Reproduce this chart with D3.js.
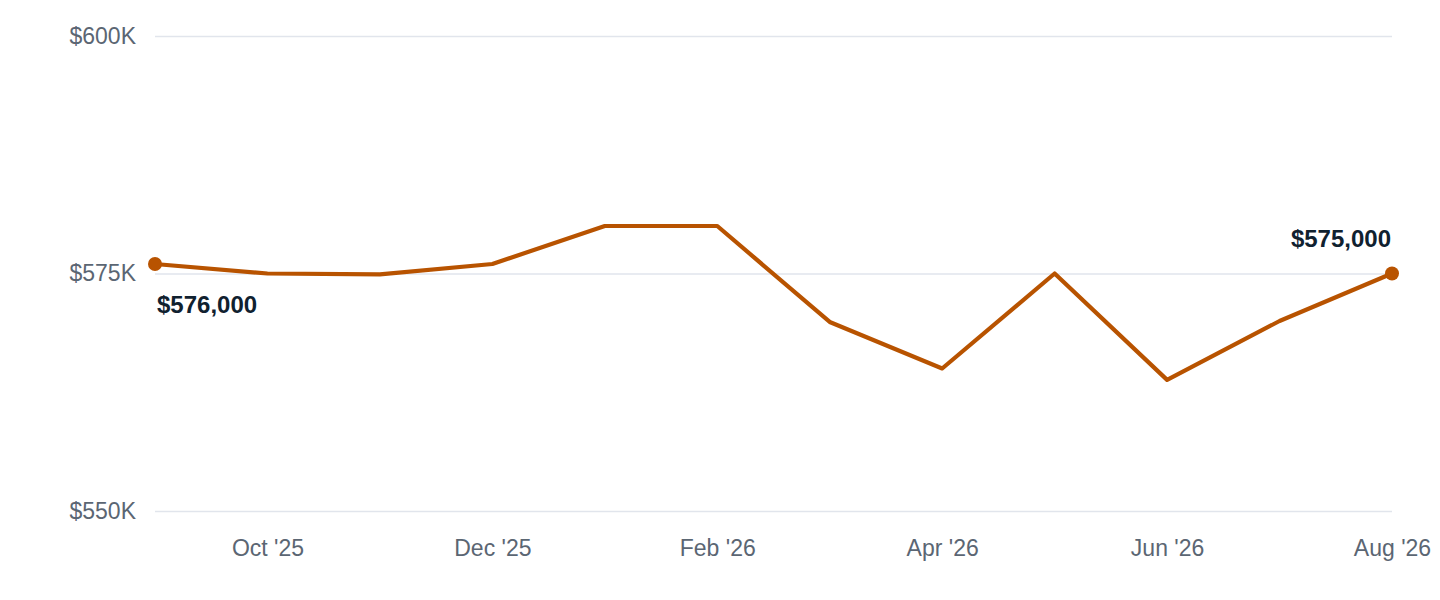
<!DOCTYPE html>
<html>
<head>
<meta charset="utf-8">
<script src="https://cdn.jsdelivr.net/npm/d3@7"></script>
<style>
  html, body { margin: 0; padding: 0; background: #fff; }
  svg { display: block; font-family: "Liberation Sans", Arial, Helvetica, sans-serif; }
</style>
</head>
<body>
<svg id="chart"></svg>
<script>
const months = ["Sep '25", "Oct '25", "Nov '25", "Dec '25", "Jan '26", "Feb '26",
  "Mar '26", "Apr '26", "May '26", "Jun '26", "Jul '26", "Aug '26"];
const prices = [576000, 575000, 574900, 576000, 580000, 580000,
  569900, 565000, 575000, 563800, 570000, 575000];
const yTicks = [550000, 575000, 600000];
const xTicks = ["Oct '25", "Dec '25", "Feb '26", "Apr '26", "Jun '26", "Aug '26"];

const width = 1440;
const height = 600;
const margin = { top: 36, right: 48, bottom: 89, left: 155 };

const svg = d3.select("#chart").attr("width", width).attr("height", height);

const x = d3.scalePoint()
  .domain(months)
  .range([margin.left, width - margin.right]);
const y = d3.scaleLinear()
  .domain([550000, 600000])
  .range([height - margin.bottom, margin.top]);

// gridlines + y labels
const yAxis = svg.append("g")
  .attr("transform", `translate(${margin.left},0)`)
  .call(d3.axisLeft(y).tickValues(yTicks).tickSize(-(width - margin.left - margin.right))
    .tickPadding(19).tickFormat((d) => `$${d / 1000}K`));
yAxis.select(".domain").remove();
yAxis.selectAll(".tick line").attr("stroke", "#e1e5ec").attr("stroke-width", 1.5);
yAxis.selectAll(".tick text").attr("fill", "#5b6673").attr("font-size", 23);

// x labels
const xAxis = svg.append("g")
  .attr("transform", `translate(0,${height - margin.bottom})`)
  .call(d3.axisBottom(x).tickValues(xTicks).tickSize(0).tickPadding(29));
xAxis.select(".domain").remove();
xAxis.selectAll(".tick text").attr("fill", "#5b6673").attr("font-size", 23);

const line = d3.line()
  .x((_, i) => x(months[i]))
  .y((d) => y(d));

svg.append("path")
  .datum(prices)
  .attr("fill", "none")
  .attr("stroke", "#b85300")
  .attr("stroke-width", 4.2)
  .attr("stroke-linejoin", "round")
  .attr("d", line);

const last = prices.length - 1;
svg.append("g")
  .selectAll("circle")
  .data([0, last])
  .join("circle")
  .attr("cx", (i) => x(months[i]))
  .attr("cy", (i) => y(prices[i]))
  .attr("r", 7)
  .attr("fill", "#b85300");

const fmt = d3.format("$,");
svg.append("text")
  .attr("x", x(months[0]) + 2)
  .attr("y", y(prices[0]) + 49)
  .attr("font-size", 24)
  .attr("font-weight", "bold")
  .attr("fill", "#10212f")
  .text(fmt(prices[0]));
svg.append("text")
  .attr("x", x(months[last]) - 1)
  .attr("y", y(prices[last]) - 27)
  .attr("text-anchor", "end")
  .attr("font-size", 24)
  .attr("font-weight", "bold")
  .attr("fill", "#10212f")
  .text(fmt(prices[last]));
</script>
</body>
</html>
